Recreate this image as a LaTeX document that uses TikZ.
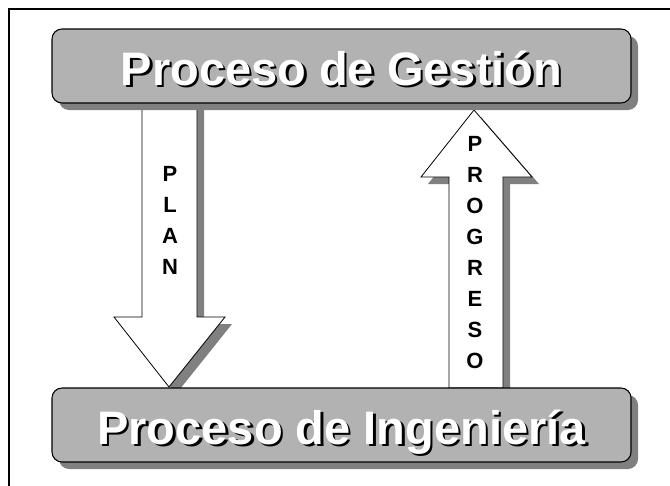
\documentclass[tikz,border=0pt]{standalone}
\usepackage{fontspec}
\setmainfont{Liberation Sans}
\usetikzlibrary{positioning,shadows}

\begin{document}
\begin{tikzpicture}[
		x=0.75pt, y=-0.75pt,
		Caja/.style={draw=black, fill=black!30, rounded corners=7.5pt, line width=0.8pt,
			minimum width=434.25pt, minimum height=55.5pt, inner sep=0pt,
			drop shadow={shadow xshift=5.25pt, shadow yshift=-5.25pt, fill=black!50, opacity=1}},
		Flecha/.style={draw=black, fill=white, line width=0.6pt, line join=miter},
		FlechaSombra/.style={fill=black!50},
		Titulo/.style={font=\bfseries\fontsize{35.25}{40}\selectfont, inner sep=0pt, anchor=base},
		Letras/.style={font=\bfseries\fontsize{16.5}{23.25}\selectfont, align=center, inner sep=0pt}
		]
		
		\clip (0,0) rectangle (670,485);
		\useasboundingbox (0,0) rectangle (670,485);
		
		% marco
		\draw[black, line width=1.1pt] (9,9) rectangle (700,520);
		
		% flechas
		\def\FlechaPlan{(142,103) -- (197,103) -- (197,317) -- (225,317) -- (169,387) -- (114,317) -- (142,317) -- cycle}
		\def\FlechaProgreso{(449,388) -- (503,388) -- (503,177) -- (532,177) -- (474,110) -- (421,177) -- (449,177) -- cycle}
		
		\fill[FlechaSombra, shift={(7,7)}] \FlechaPlan;
		\fill[FlechaSombra, shift={(7,7)}] \FlechaProgreso;
		\draw[Flecha] \FlechaPlan;
		\draw[Flecha] \FlechaProgreso;
		
		% cajas
		\node[Caja] (gestion) at (341.5,66) {};
		\node[Caja] (ingenieria) at (341.5,425) {};
		
		\node[Titulo, text=black] (gestionsombra) at (344,87.5) {Proceso de Gestión};
		\node[Titulo, text=white] (gestiontexto) at (341.5,85) {Proceso de Gestión};
		\node[Titulo, text=black] (ingenieriasombra) at (344,446.5) {Proceso de Ingeniería};
		\node[Titulo, text=white] (ingenieriatexto) at (341.5,444) {Proceso de Ingeniería};
		
		% letras verticales
		\node[Letras] (plan) at (170,220) {P\\L\\A\\N};
		\node[Letras] (progreso) at (475,253) {P\\R\\O\\G\\R\\E\\S\\O};
		
\end{tikzpicture}
\end{document}
